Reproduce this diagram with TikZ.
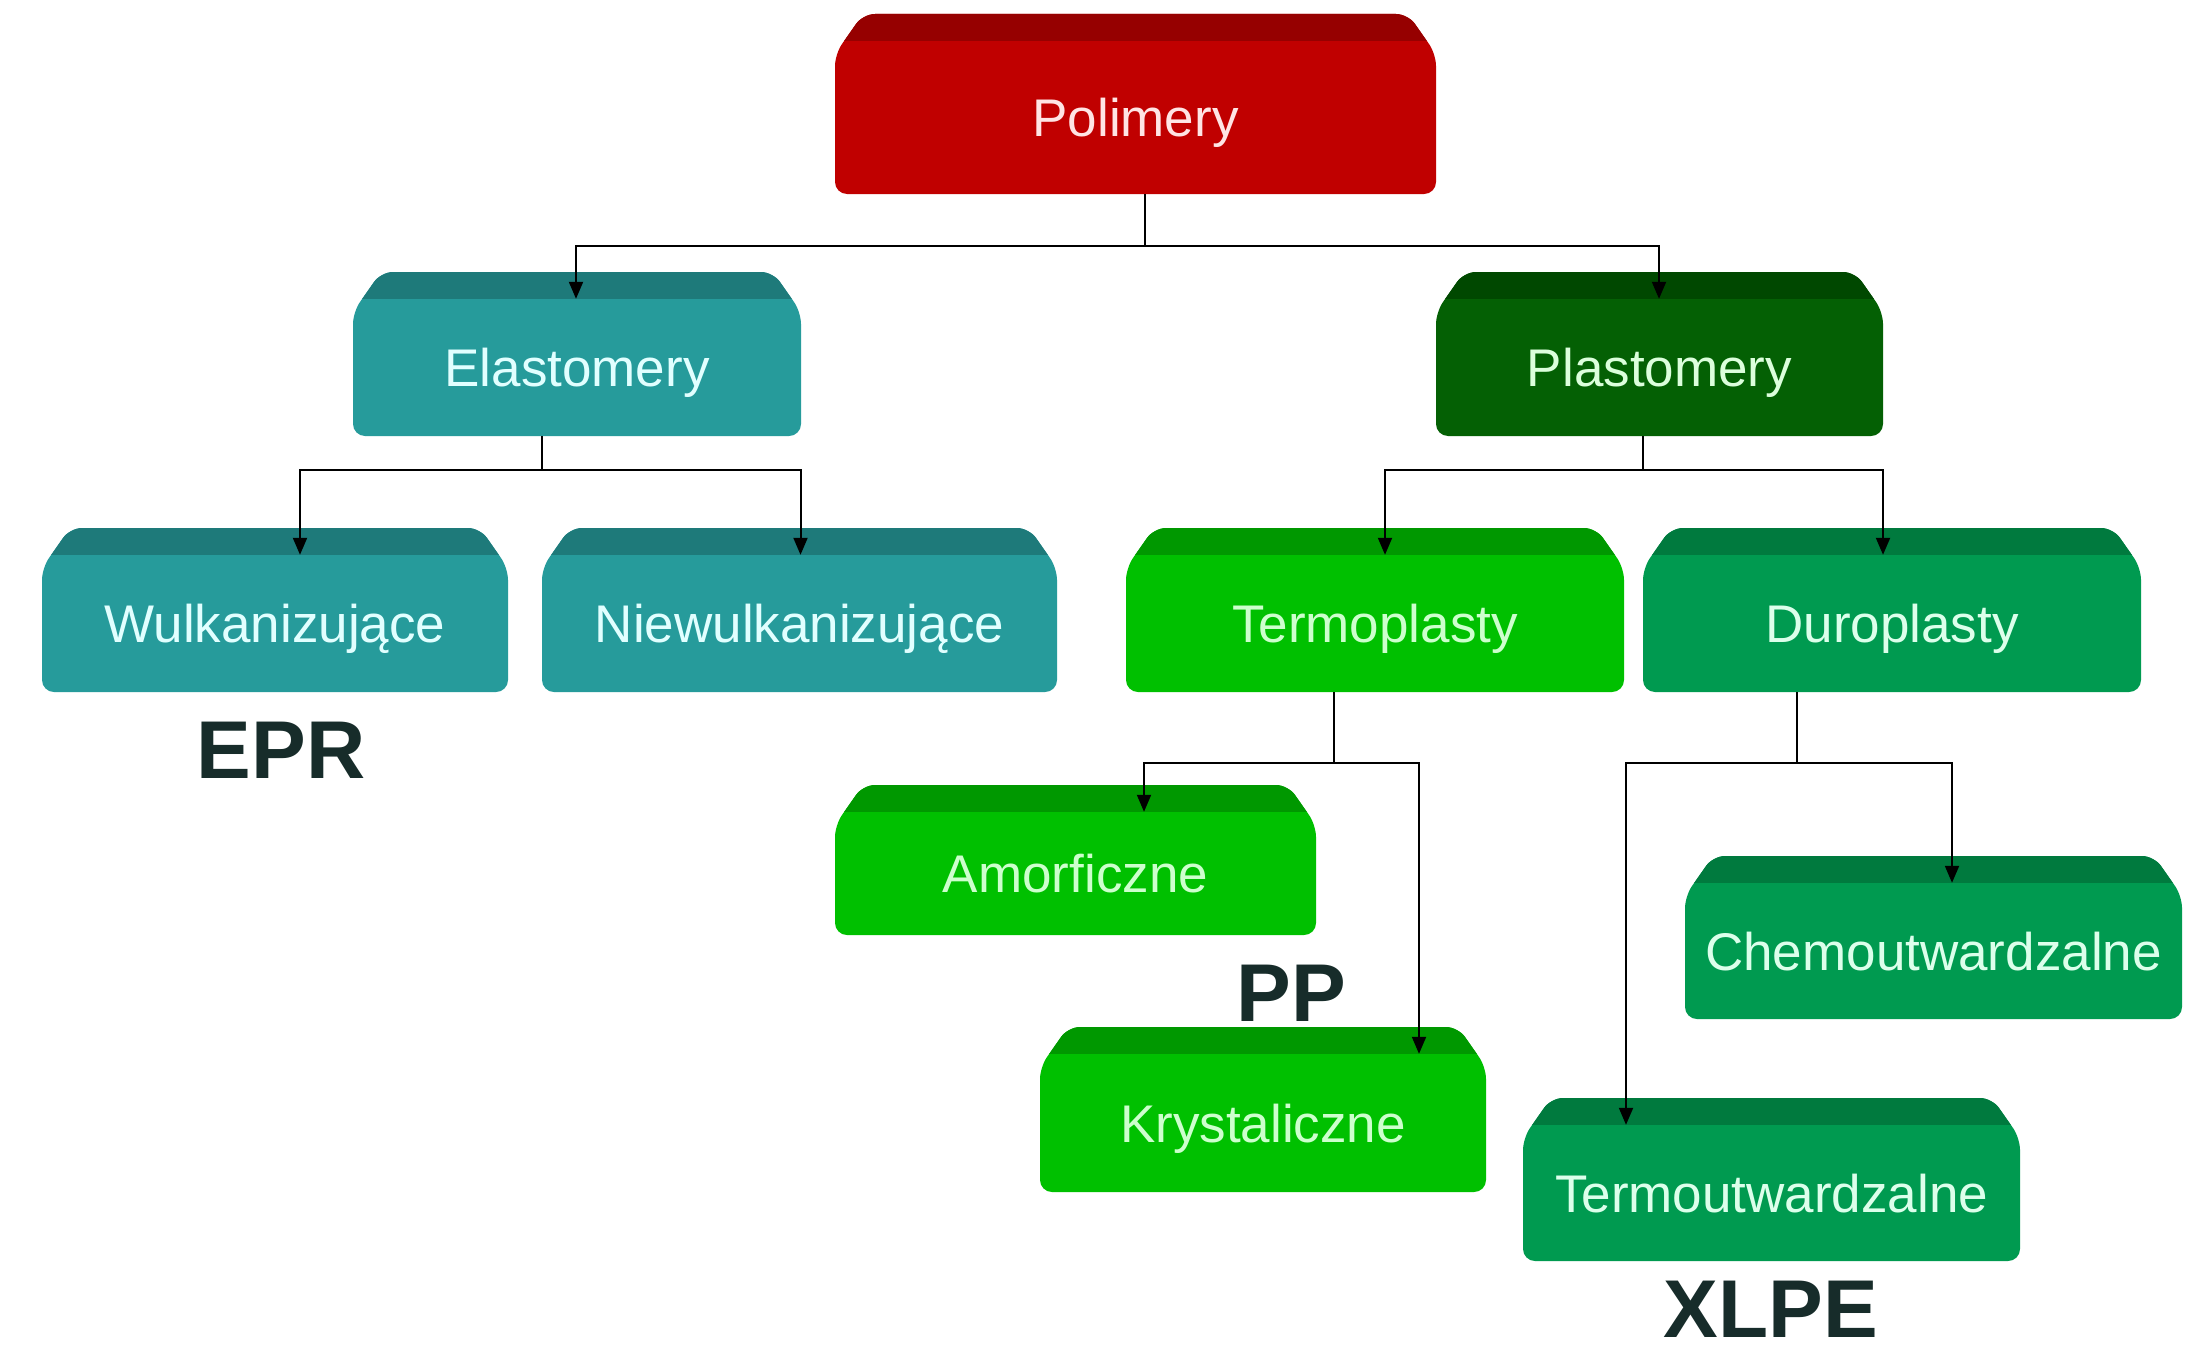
\documentclass[tikz,border=0pt]{standalone}
\usepackage{fontspec}
\setmainfont{Liberation Sans}
\usetikzlibrary{arrows.meta}
\definecolor{redBody}{RGB}{192,0,0}
\definecolor{redTop}{RGB}{150,0,0}
\definecolor{redTxt}{RGB}{255,228,228}
\definecolor{tealBody}{RGB}{38,155,155}
\definecolor{tealTop}{RGB}{30,122,122}
\definecolor{tealTxt}{RGB}{225,255,255}
\definecolor{dkBody}{RGB}{4,96,4}
\definecolor{dkTop}{RGB}{0,72,0}
\definecolor{dkTxt}{RGB}{220,255,220}
\definecolor{grBody}{RGB}{0,192,0}
\definecolor{grTop}{RGB}{0,152,0}
\definecolor{grTxt}{RGB}{205,255,205}
\definecolor{duBody}{RGB}{0,154,80}
\definecolor{duTop}{RGB}{0,122,62}
\definecolor{duTxt}{RGB}{220,255,235}
\definecolor{labCol}{RGB}{23,44,42}
\tikzset{
  boxtext/.style={rectangle, inner sep=0pt, draw=none,
    font=\fontsize{53}{60}\selectfont, text height=38pt, text depth=0pt},
  biglabel/.style={inner sep=0pt, text=labCol,
    font=\bfseries\fontsize{82}{90}\selectfont, text height=59pt, text depth=0pt},
  conn/.style={draw=black, line width=2pt},
  arr/.style={conn, -{Triangle[length=17pt,width=14pt]}},
}
% #1 name, #2 L, #3 T, #4 R, #5 B, #6 body colour, #7 top colour, #8 text, #9 text colour
\newcommand\bx[9]{%
  \fill[#6,rounded corners=12pt] (#2,#5) -- (#2,{#3+40}) -- ({#2+28},#3) -- ({#4-28},#3) -- (#4,{#3+40}) -- (#4,#5) -- cycle;
  \begin{scope}
    \clip[rounded corners=12pt] (#2,#5) -- (#2,{#3+40}) -- ({#2+28},#3) -- ({#4-28},#3) -- (#4,{#3+40}) -- (#4,#5) -- cycle;
    \fill[#7] (#2,{#3-2}) rectangle (#4,{#3+27});
  \end{scope}
  \node[boxtext, text=#9, minimum width={#4-#2}, minimum height={#5-#3-27}] (#1) at ({(#2+#4)/2},{(#3+27+#5)/2}) {#8};
}
\begin{document}
\begin{tikzpicture}[x=1pt,y=-1pt]
\useasboundingbox (0,0) rectangle (2207,1346);
\fill[white] (0,0) rectangle (2207,1346);

\bx{pol}{835}{14}{1436}{194}{redBody}{redTop}{Polimery}{redTxt}
\bx{ela}{353}{272}{801}{436}{tealBody}{tealTop}{Elastomery}{tealTxt}
\bx{pla}{1436}{272}{1883}{436}{dkBody}{dkTop}{Plastomery}{dkTxt}
\bx{wul}{42}{528}{508}{692}{tealBody}{tealTop}{Wulkanizujące}{tealTxt}
\bx{nie}{542}{528}{1057}{692}{tealBody}{tealTop}{Niewulkanizujące}{tealTxt}
\bx{ter}{1126}{528}{1624}{692}{grBody}{grTop}{Termoplasty}{grTxt}
\bx{dur}{1643}{528}{2141}{692}{duBody}{duTop}{Duroplasty}{duTxt}
\bx{amo}{835}{785}{1316}{935}{grBody}{grTop}{Amorficzne}{grTxt}
\bx{kry}{1040}{1027}{1486}{1192}{grBody}{grTop}{Krystaliczne}{grTxt}
\bx{che}{1685}{856}{2182}{1019}{duBody}{duTop}{Chemoutwardzalne}{duTxt}
\bx{teu}{1523}{1098}{2020}{1261}{duBody}{duTop}{Termoutwardzalne}{duTxt}

\node[biglabel] (epr) at (281,749) {EPR};
\node[biglabel] (pp) at (1291,992) {PP};
\node[biglabel] (xlpe) at (1771,1308) {XLPE};

% connectors
\draw[arr] ([xshift=9pt]pol.south) -- ++(0,52) -| ([xshift=-1pt]ela.north);
\draw[arr] ([xshift=9pt]pol.south) -- ++(0,52) -| ([xshift=-0.5pt]pla.north);

\draw[arr] ([xshift=-35pt]ela.south) -- ++(0,34) -| ([xshift=25pt]wul.north);
\draw[arr] ([xshift=-35pt]ela.south) -- ++(0,34) -| ([xshift=1pt]nie.north);

\draw[arr] ([xshift=-16.5pt]pla.south) -- ++(0,34) -| ([xshift=10pt]ter.north);
\draw[arr] ([xshift=-16.5pt]pla.south) -- ++(0,34) -| ([xshift=-9pt]dur.north);

\draw[arr] ([xshift=-41pt]ter.south) -- ++(0,71) -| ([xshift=68.5pt]amo.north);
\draw[arr] ([xshift=-41pt]ter.south) -- ++(0,71) -| ([xshift=156pt]kry.north);

\draw[arr] ([xshift=-95pt]dur.south) -- ++(0,71) -| ([xshift=18.5pt]che.north);
\draw[arr] ([xshift=-95pt]dur.south) -- ++(0,71) -| ([xshift=-145.5pt]teu.north);
\end{tikzpicture}
\end{document}
